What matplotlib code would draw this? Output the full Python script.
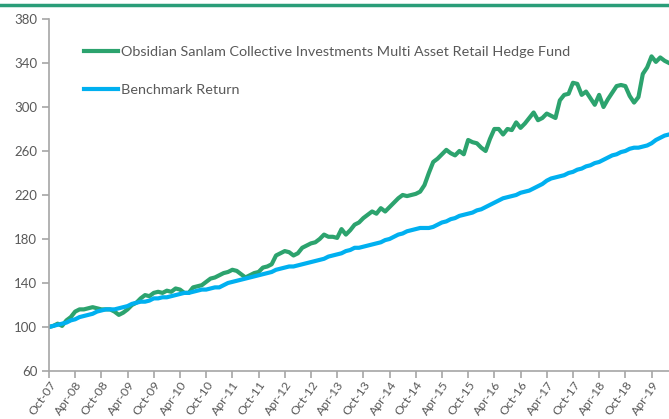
import matplotlib
matplotlib.use('Agg')
import matplotlib.pyplot as plt
from matplotlib.lines import Line2D

plt.rcParams['font.family'] = ['Lato', 'DejaVu Sans']

# monthly index values, Oct-07 .. Aug-19
fund = [100, 101, 103, 101, 106, 109, 114, 116, 116, 117, 118, 117, 116, 116, 116, 114,
        111, 113, 116, 120, 122, 126, 129, 128, 131, 132, 131, 133, 132, 135, 134, 131,
        131, 136, 137, 138, 141, 144, 145, 147, 149, 150, 152, 151, 148, 145, 147, 149,
        150, 154, 155, 157, 165, 167, 169, 168, 165, 167, 172, 174, 176, 177, 180, 184,
        182, 182, 181, 189, 184, 188, 193, 195, 199, 202, 205, 203, 208, 205, 209, 213,
        217, 220, 219, 220, 221, 223, 229, 240, 250, 253, 257, 261, 258, 256, 260, 257,
        270, 268, 267, 263, 260, 271, 280, 280, 275, 280, 279, 286, 281, 285, 290, 295,
        288, 290, 294, 292, 290, 306, 311, 312, 322, 321, 311, 314, 308, 302, 311, 300,
        307, 313, 319, 320, 319, 310, 304, 309, 330, 336, 346, 341, 345, 342, 340]
bench = [100, 101, 102, 103, 104, 106, 107, 109, 110, 111, 112, 114, 115, 116, 116, 116,
         117, 118, 119, 121, 122, 123, 123, 124, 126, 126, 127, 127, 128, 129, 130, 131,
         131, 132, 133, 134, 134, 135, 136, 136, 138, 140, 141, 142, 143, 144, 145, 146,
         147, 148, 149, 150, 152, 153, 154, 155, 155, 156, 157, 158, 159, 160, 161, 162,
         164, 165, 166, 167, 169, 170, 172, 172, 173, 174, 175, 176, 177, 179, 180, 182,
         184, 185, 187, 188, 189, 190, 190, 190, 191, 193, 195, 196, 198, 199, 201, 202,
         203, 204, 206, 207, 209, 211, 213, 215, 217, 218, 219, 220, 222, 223, 224, 226,
         228, 230, 233, 235, 236, 237, 238, 240, 241, 243, 244, 246, 247, 249, 250, 252,
         254, 256, 257, 259, 260, 262, 263, 263, 264, 265, 267, 270, 272, 274, 275]
tick_labels = ['Oct-07', 'Apr-08', 'Oct-08', 'Apr-09', 'Oct-09', 'Apr-10', 'Oct-10',
               'Apr-11', 'Oct-11', 'Apr-12', 'Oct-12', 'Apr-13', 'Oct-13', 'Apr-14',
               'Oct-14', 'Apr-15', 'Oct-15', 'Apr-16', 'Oct-16', 'Apr-17', 'Oct-17',
               'Apr-18', 'Oct-18', 'Apr-19']
y_ticks = [60, 100, 140, 180, 220, 260, 300, 340, 380]

green = '#2ca36e'
blue = '#00b0f0'
grey = '#595959'

fig = plt.figure(figsize=(6.69, 4.19), dpi=100)
ax = fig.add_axes([0.0732, 0.1146, 0.9268, 0.8401])

months = range(len(fund))
ax.plot(months, fund, color=green, lw=3,
        label='Obsidian Sanlam Collective Investments Multi Asset Retail Hedge Fund')
ax.plot(months, bench, color=blue, lw=3, label='Benchmark Return')

ax.set_xlim(0, len(fund) - 1)
ax.set_ylim(60, 380)
ax.set_yticks(y_ticks)
ax.set_xticks(range(0, 6 * len(tick_labels), 6))
ax.set_xticklabels(tick_labels, rotation=55, ha='right', rotation_mode='anchor',
                   fontsize=8.8)

for s in ['top', 'right']:
    ax.spines[s].set_visible(False)
for s in ['left', 'bottom']:
    ax.spines[s].set_color('#a6a6a6')
    ax.spines[s].set_linewidth(1.2)
ax.tick_params(colors='#a6a6a6', labelcolor=grey, length=5, width=1.2)
ax.tick_params(axis='y', labelsize=9.5)
ax.tick_params(axis='x', pad=1)

ax.legend(loc='upper left', bbox_to_anchor=(0.035, 0.96), frameon=False,
          fontsize=10.4, labelcolor=grey, handlelength=2.35, handletextpad=0.2,
          labelspacing=1.8)

# green rule at the top of the panel
fig.add_artist(Line2D([0, 1], [0.988, 0.988], color='#2a9d78', lw=2.5))

fig.savefig('out.png', dpi=100)
